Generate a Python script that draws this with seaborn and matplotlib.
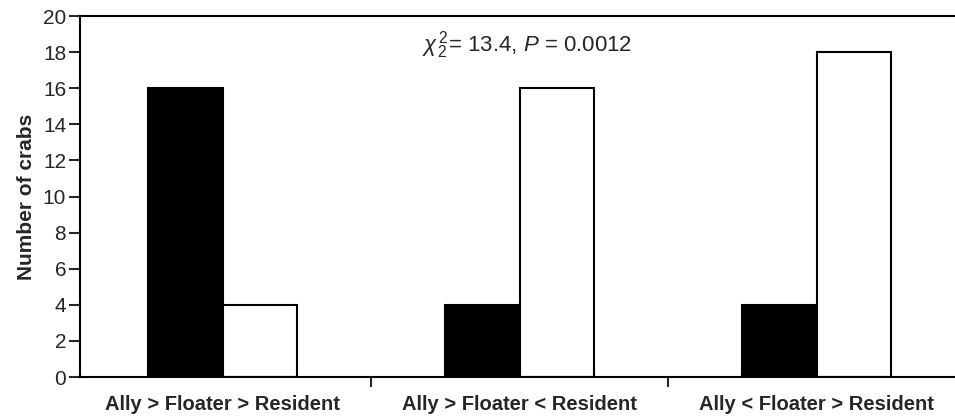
import pandas as pd
import matplotlib
matplotlib.use("Agg")
import matplotlib.pyplot as plt
import seaborn as sns

# Data
categories = ["Ally > Floater > Resident", "Ally > Floater < Resident", "Ally < Floater > Resident"]
black_counts = [16, 4, 4]
white_counts = [4, 16, 18]
series_names = ["black", "white"]

df = pd.DataFrame({
    "category": categories * 2,
    "count": black_counts + white_counts,
    "series": [series_names[0]] * 3 + [series_names[1]] * 3,
})

sns.set_style("white")
plt.rcParams["font.family"] = ["Liberation Sans", "DejaVu Sans"]
plt.rcParams["mathtext.fontset"] = "custom"
plt.rcParams["mathtext.rm"] = "Liberation Sans"
plt.rcParams["mathtext.it"] = "Liberation Sans:italic"

fig = plt.figure(figsize=(9.55, 4.19), dpi=100)
ax = fig.add_axes([0.0838, 0.1002, 0.9162, 0.8616])

sns.barplot(
    data=df, x="category", y="count", hue="series",
    palette={"black": "black", "white": "white"},
    edgecolor="black", linewidth=1.5, width=0.5, legend=False, ax=ax,
)

ax.set_ylim(0, 20)
ax.set_xlim(-0.48, 2.466)
ax.set_yticks(range(0, 21, 2))
ax.tick_params(axis="y", labelsize=15, direction="out", length=8, width=1.5, left=True, pad=2)
# x ticks sit between the categories, labels under the bar pairs
ax.set_xticks([0.5, 1.5], minor=False)
ax.set_xticklabels([])
ax.set_xticks([0, 1, 2], minor=True)
ax.set_xticklabels(categories, minor=True, fontsize=14.5, fontweight="bold")
ax.tick_params(axis="x", which="major", direction="out", length=7, width=1.5, bottom=True)
ax.tick_params(axis="x", which="minor", length=0, pad=13)

for side in ["left", "bottom", "top"]:
    ax.spines[side].set_linewidth(1.5)
    ax.spines[side].set_color("black")
ax.spines["right"].set_visible(False)

ax.set_xlabel("")
ax.set_ylabel("Number of crabs", fontsize=15, fontweight="bold", labelpad=5)

ax.text(0.511, 0.92, r"$\chi^{\,2}_{\,2}$= 13.4, $P$ = 0.0012", transform=ax.transAxes,
        ha="center", va="center", fontsize=16)

fig.savefig("out.png", dpi=100)
